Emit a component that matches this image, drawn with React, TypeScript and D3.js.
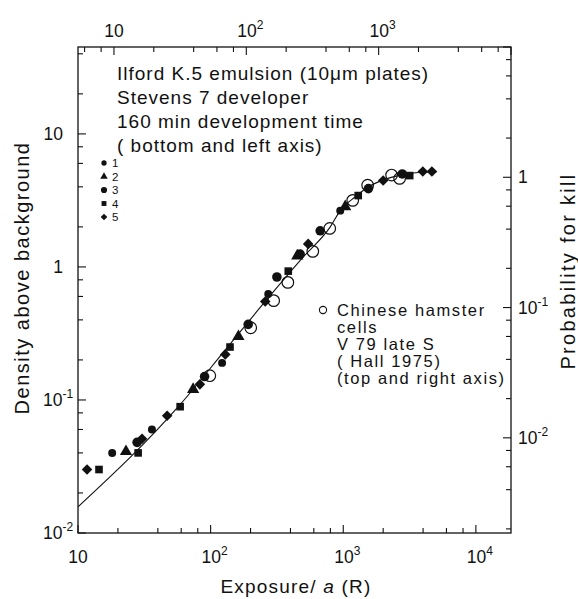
import { useEffect, useRef } from "react";
import * as d3 from "d3";

// fitted curve (exposure in R, density)
const curveE = [10, 59, 130, 258, 500, 798, 949, 1250, 1548, 2000, 2690, 3500, 5100];
const curveD = [0.0157, 0.0925, 0.24, 0.55, 1.19, 2.0, 2.65, 3.4, 4.0, 4.5, 4.9, 5.1, 5.2];

// emulsion data, plates 1-5 (bottom and left axis)
const s1E = [18.1, 36.1, 122, 272, 949];
const s1D = [0.04, 0.06, 0.19, 0.625, 2.65];
const s2E = [23.0, 73.8, 162, 450, 1035];
const s2D = [0.041, 0.12, 0.3, 1.21, 2.84];
const s3E = [27.9, 90, 192, 316, 473, 670, 1548, 2786];
const s3D = [0.048, 0.15, 0.37, 0.84, 1.25, 1.87, 3.88, 5.0];
const s4E = [14.4, 28.4, 58.9, 140, 385, 1297, 3170];
const s4D = [0.03, 0.04, 0.089, 0.25, 0.93, 3.44, 4.86];
const s5E = [11.7, 30.4, 47, 83, 129, 258, 544, 2000, 3980, 4660];
const s5D = [0.03, 0.051, 0.076, 0.131, 0.22, 0.55, 1.49, 4.46, 5.21, 5.21];

// Chinese hamster cells (top and right axis)
const hamDose = [53, 108, 161, 206, 318, 427, 637, 826, 1253, 1440];
const hamProb = [0.03, 0.07, 0.113, 0.156, 0.27, 0.405, 0.665, 0.87, 1.04, 0.98];

const bottomTicks = [10, 100, 1000, 10000];
const bottomLabels = [["10", ""], ["10", "2"], ["10", "3"], ["10", "4"]];
const topTicks = [10, 100, 1000];
const topLabels = [["10", ""], ["10", "2"], ["10", "3"]];
const leftTicks = [0.01, 0.1, 1, 10];
const leftLabels = [["10", "-2"], ["10", "-1"], ["1", ""], ["10", ""]];
const rightTicks = [0.01, 0.1, 1];
const rightLabels = [["10", "-2"], ["10", "-1"], ["1", ""]];

const noteLines = [
  "Ilford K.5 emulsion (10\u03bcm plates)",
  "Stevens 7 developer",
  "160 min  development time",
  "( bottom  and  left axis)",
];
const hamLines = ["Chinese hamster", "cells", "V 79  late S", "( Hall  1975)", "(top and right axis)"];

const FONT = "'Liberation Sans', Arial, sans-serif";

// minor ticks at 2,4,6,8 per decade
const logTicks = (lo: number, hi: number) => {
  const out: { v: number; major: boolean }[] = [];
  for (let k = Math.floor(Math.log10(lo)); k <= Math.ceil(Math.log10(hi)); k++) {
    [1, 2, 4, 6, 8].forEach((m) => {
      const v = m * Math.pow(10, k);
      if (v >= lo * 0.999 && v <= hi * 1.001) out.push({ v, major: m === 1 });
    });
  }
  return out;
};

const App = () => {
  const svgRef = useRef<SVGSVGElement | null>(null);

  useEffect(() => {
    const svg = d3.select(svgRef.current);
    svg.selectAll("*").remove();

    const L = 78, R = 511, T = 47, B = 533;
    const x = d3.scaleLog().domain([10, 18400]).range([L, R]);
    const y = d3.scaleLog().domain([0.01, 45]).range([B, T]);
    const xTop = d3.scaleLog().domain([5.35, 10000]).range([L, R]);
    const yRight = d3.scaleLog().domain([0.00186, 10]).range([B, T]);

    const ink = "#111";

    // frame
    svg.append("rect")
      .attr("x", L).attr("y", T).attr("width", R - L).attr("height", B - T)
      .attr("fill", "none").attr("stroke", ink).attr("stroke-width", 1.3);

    const g = svg.append("g").attr("stroke", ink).attr("stroke-width", 1.1);
    logTicks(10, 18400).forEach((t) => {
      const len = t.major ? 8 : 5;
      g.append("line").attr("x1", x(t.v)).attr("x2", x(t.v)).attr("y1", B).attr("y2", B - len);
    });
    logTicks(5.35, 10000).forEach((t) => {
      const len = t.major ? 8 : 5;
      g.append("line").attr("x1", xTop(t.v)).attr("x2", xTop(t.v)).attr("y1", T).attr("y2", T + len);
    });
    logTicks(0.01, 45).forEach((t) => {
      const len = t.major ? 8 : 5;
      g.append("line").attr("x1", L).attr("x2", L + len).attr("y1", y(t.v)).attr("y2", y(t.v));
    });
    logTicks(0.00186, 10).forEach((t) => {
      const len = t.major ? 8 : 5;
      g.append("line").attr("x1", R).attr("x2", R - len).attr("y1", yRight(t.v)).attr("y2", yRight(t.v));
    });

    // tick labels with superscripts
    const label = (px: number, py: number, base: string, sup: string, anchor: string) => {
      const t = svg.append("text")
        .attr("x", px).attr("y", py)
        .attr("text-anchor", anchor)
        .attr("font-family", FONT).attr("font-size", 17.5).attr("fill", ink);
      t.append("tspan").text(base);
      if (sup) t.append("tspan").attr("font-size", 12).attr("dy", -8).text(sup);
    };
    bottomTicks.forEach((v, i) => label(x(v) + (bottomLabels[i][1] ? 4 : 0), 563, bottomLabels[i][0], bottomLabels[i][1], "middle"));
    topTicks.forEach((v, i) => label(xTop(v) + (topLabels[i][1] ? 4 : 0), 37, topLabels[i][0], topLabels[i][1], "middle"));
    leftTicks.forEach((v, i) => label(leftLabels[i][1] ? 43 : 63, y(v) + 6, leftLabels[i][0], leftLabels[i][1], leftLabels[i][1] ? "start" : "end"));
    rightTicks.forEach((v, i) => label(518, yRight(v) + 6, rightLabels[i][0], rightLabels[i][1], "start"));

    // axis titles
    const title = svg.append("text")
      .attr("x", 296).attr("y", 593).attr("text-anchor", "middle")
      .attr("font-family", FONT).attr("font-size", 19).attr("letter-spacing", 1.2).attr("fill", ink);
    title.append("tspan").text("Exposure/ ");
    title.append("tspan").attr("font-style", "italic").text("a");
    title.append("tspan").text(" (R)");

    svg.append("text")
      .attr("transform", "translate(29,278) rotate(-90)")
      .attr("text-anchor", "middle")
      .attr("font-family", FONT).attr("font-size", 20).attr("letter-spacing", 1.5).attr("fill", ink)
      .text("Density above background");
    svg.append("text")
      .attr("transform", "translate(575,271) rotate(-90)")
      .attr("text-anchor", "middle")
      .attr("font-family", FONT).attr("font-size", 20).attr("letter-spacing", 2.3).attr("fill", ink)
      .text("Probability for kill");

    // fitted curve
    const line = d3.line<number>()
      .x((d, i) => x(curveE[i]))
      .y((d) => y(d))
      .curve(d3.curveMonotoneX);
    svg.append("path")
      .attr("d", line(curveD) as string)
      .attr("fill", "none").attr("stroke", ink).attr("stroke-width", 1.1);

    // markers
    const sym = (type: d3.SymbolType, size: number) => d3.symbol().type(type).size(size)() as string;
    const series = [
      { e: s1E, d: s1D, path: sym(d3.symbolCircle, 50), rot: 0 },
      { e: s2E, d: s2D, path: sym(d3.symbolTriangle, 65), rot: 0 },
      { e: s3E, d: s3D, path: sym(d3.symbolCircle, 72), rot: 0 },
      { e: s4E, d: s4D, path: sym(d3.symbolSquare, 58), rot: 0 },
      { e: s5E, d: s5D, path: sym(d3.symbolSquare, 56), rot: 45 },
    ];
    series.forEach((s) => {
      svg.append("g").selectAll("path")
        .data(s.d)
        .join("path")
        .attr("d", s.path)
        .attr("transform", (d, i) => `translate(${x(s.e[i])},${y(d)}) rotate(${s.rot})`)
        .attr("fill", ink);
    });

    svg.append("g").selectAll("circle")
      .data(hamProb)
      .join("circle")
      .attr("cx", (d, i) => xTop(hamDose[i]))
      .attr("cy", (d) => yRight(d))
      .attr("r", 5.8)
      .attr("fill", "none").attr("stroke", ink).attr("stroke-width", 1.2);

    // notes
    noteLines.forEach((s, i) => {
      svg.append("text")
        .attr("x", 117).attr("y", 80 + i * 24)
        .attr("font-family", FONT).attr("font-size", 19).attr("letter-spacing", 1).attr("fill", ink)
        .text(s);
    });

    // plate legend
    const legY = [163, 176.5, 190, 203.5, 217];
    const legSym = [
      sym(d3.symbolCircle, 22), sym(d3.symbolTriangle, 24), sym(d3.symbolCircle, 30),
      sym(d3.symbolSquare, 24), sym(d3.symbolSquare, 22),
    ];
    legY.forEach((ly, i) => {
      svg.append("path").attr("d", legSym[i])
        .attr("transform", `translate(104,${ly}) rotate(${i === 4 ? 45 : 0})`).attr("fill", ink);
      svg.append("text").attr("x", 112).attr("y", ly + 4)
        .attr("font-family", FONT).attr("font-size", 11.5).attr("fill", ink).text(String(i + 1));
    });

    // hamster legend
    svg.append("circle").attr("cx", 323).attr("cy", 310).attr("r", 3.6)
      .attr("fill", "none").attr("stroke", ink).attr("stroke-width", 1.1);
    const hamY = [316, 333, 350, 367, 384];
    hamLines.forEach((s, i) => {
      svg.append("text")
        .attr("x", 337).attr("y", hamY[i])
        .attr("font-family", FONT).attr("font-size", 16.5).attr("letter-spacing", 1.6).attr("fill", ink)
        .text(s);
    });
  }, []);

  return (
    <svg
      ref={svgRef}
      width={578}
      height={599}
      style={{ position: "absolute", left: 0, top: 0, background: "#fff" }}
    ></svg>
  );
};

export default App;
